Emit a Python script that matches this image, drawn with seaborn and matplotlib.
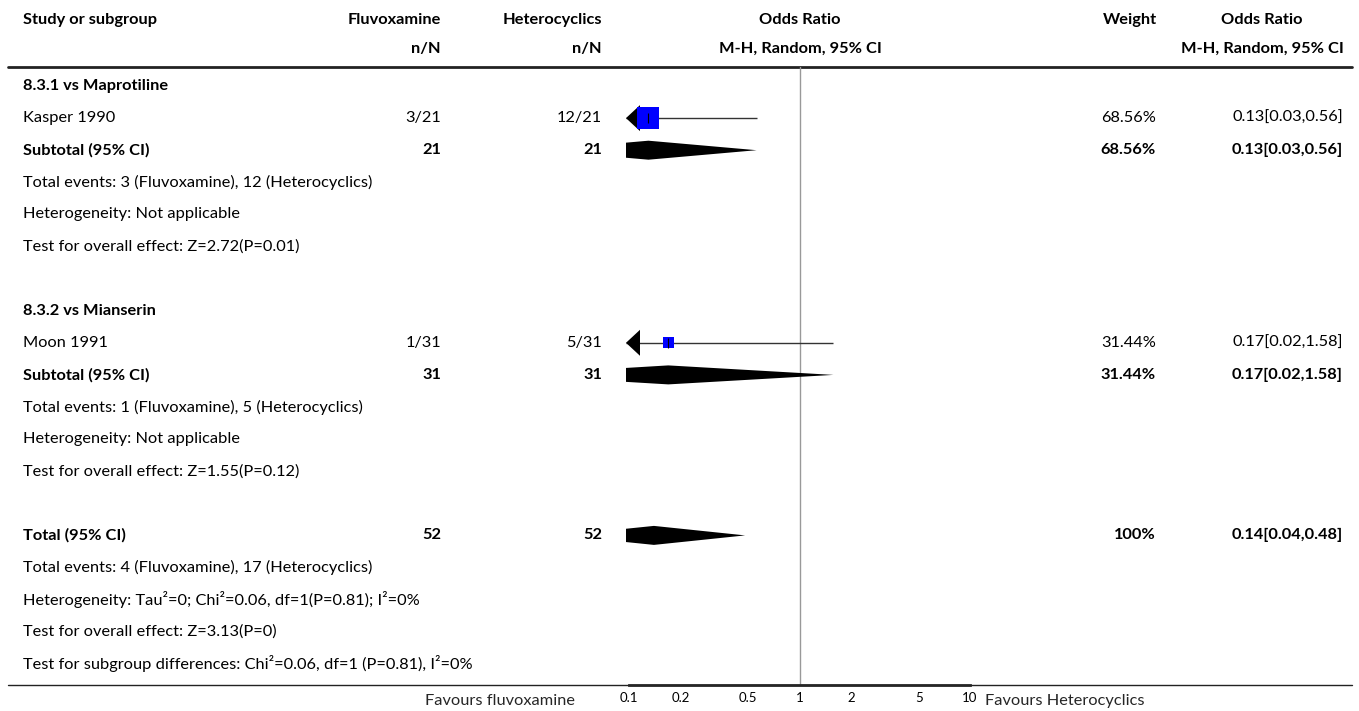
import numpy as np
import pandas as pd
import matplotlib
matplotlib.use("Agg")
import matplotlib.pyplot as plt
import seaborn as sns
from matplotlib.patches import Polygon

# ---- data ----
subgroup_headers = ["8.3.1 vs Maprotiline", "8.3.2 vs Mianserin"]
subgroup_rows = [0, 7]

studies = ["Kasper 1990", "Moon 1991"]
study_rows = [1, 8]
study_fluvox = ["3/21", "1/31"]
study_hetero = ["12/21", "5/31"]
study_or = [0.13, 0.17]
study_lo = [0.03, 0.02]
study_hi = [0.56, 1.58]
study_weight = [68.56, 31.44]

pooled_labels = ["Subtotal (95% CI)", "Subtotal (95% CI)", "Total (95% CI)"]
pooled_rows = [2, 9, 14]
pooled_fluvox = ["21", "31", "52"]
pooled_hetero = ["21", "31", "52"]
pooled_or = [0.13, 0.17, 0.14]
pooled_lo = [0.03, 0.02, 0.04]
pooled_hi = [0.56, 1.58, 0.48]
pooled_weight = ["68.56%", "31.44%", "100%"]

note_rows = [3, 4, 5, 10, 11, 12, 15, 16, 17, 18]
note_texts = [
    "Total events: 3 (Fluvoxamine), 12 (Heterocyclics)",
    "Heterogeneity: Not applicable",
    "Test for overall effect: Z=2.72(P=0.01)",
    "Total events: 1 (Fluvoxamine), 5 (Heterocyclics)",
    "Heterogeneity: Not applicable",
    "Test for overall effect: Z=1.55(P=0.12)",
    "Total events: 4 (Fluvoxamine), 17 (Heterocyclics)",
    "Heterogeneity: Tau\u00b2=0; Chi\u00b2=0.06, df=1(P=0.81); I\u00b2=0%",
    "Test for overall effect: Z=3.13(P=0)",
    "Test for subgroup differences: Chi\u00b2=0.06, df=1 (P=0.81), I\u00b2=0%",
]

x_ticks = [0.1, 0.2, 0.5, 1, 2, 5, 10]
x_tick_labels = ["0.1", "0.2", "0.5", "1", "2", "5", "10"]

sns.set_style("white")
plt.rcParams["font.family"] = ["Lato", "DejaVu Sans"]

W, H = 1359, 711
ROW0, ROWSTEP = 86, 32.1
FS = 11.8


def row_y(r):
    return ROW0 + ROWSTEP * r


fig = plt.figure(figsize=(W / 100, H / 100), dpi=100)
bg = fig.add_axes([0, 0, 1, 1])
bg.set_xlim(0, W)
bg.set_ylim(H, 0)
bg.axis("off")

# header
hdr = dict(fontsize=FS, fontweight="bold", va="center", color="black")
bg.text(23, 20, "Study or subgroup", ha="left", **hdr)
bg.text(441, 20, "Fluvoxamine", ha="right", **hdr)
bg.text(441, 49, "n/N", ha="right", **hdr)
bg.text(602, 20, "Heterocyclics", ha="right", **hdr)
bg.text(602, 49, "n/N", ha="right", **hdr)
bg.text(800, 20, "Odds Ratio", ha="center", **hdr)
bg.text(800, 49, "M-H, Random, 95% CI", ha="center", **hdr)
bg.text(1157, 20, "Weight", ha="right", **hdr)
bg.text(1262, 20, "Odds Ratio", ha="center", **hdr)
bg.text(1262, 49, "M-H, Random, 95% CI", ha="center", **hdr)
bg.plot([8, 1352], [67, 67], color="#222222", lw=2)
bg.plot([8, 1352], [685, 685], color="#222222", lw=1)

norm = dict(fontsize=FS, va="center", color="black")
for lab, r in zip(subgroup_headers, subgroup_rows):
    bg.text(23, row_y(r), lab, ha="left", fontweight="bold", **norm)

for i, r in enumerate(study_rows):
    y = row_y(r)
    bg.text(23, y, studies[i], ha="left", **norm)
    bg.text(441, y, study_fluvox[i], ha="right", **norm)
    bg.text(602, y, study_hetero[i], ha="right", **norm)
    bg.text(1156, y, f"{study_weight[i]:.2f}%", ha="right", **norm)
    bg.text(1343, y, f"{study_or[i]:.2f}[{study_lo[i]:.2f},{study_hi[i]:.2f}]",
            ha="right", **norm)

for i, r in enumerate(pooled_rows):
    y = row_y(r)
    kw = dict(fontweight="bold", **norm)
    bg.text(23, y, pooled_labels[i], ha="left", **kw)
    bg.text(441, y, pooled_fluvox[i], ha="right", **kw)
    bg.text(602, y, pooled_hetero[i], ha="right", **kw)
    bg.text(1156, y, pooled_weight[i], ha="right", **kw)
    bg.text(1343, y, f"{pooled_or[i]:.2f}[{pooled_lo[i]:.2f},{pooled_hi[i]:.2f}]",
            ha="right", **kw)

for t, r in zip(note_texts, note_rows):
    bg.text(23, row_y(r), t, ha="left", **norm)

bg.text(575, 701, "Favours fluvoxamine", ha="right", fontsize=FS, va="center")
bg.text(985, 701, "Favours Heterocyclics", ha="left", fontsize=FS, va="center")

# ---- forest panel (log odds ratio scale) ----
left_px, right_px = 626, 974
ax = fig.add_axes([left_px / W, (H - 685) / H, (right_px - left_px) / W, (685 - 67) / H])
ax.set_facecolor("none")
ax.set_xscale("log")
decade = 170.5
x0 = 10 ** (-1 - 3 / decade)
x1 = 10 ** (1 + 4 / decade)
ax.set_xlim(x0, x1)
ax.set_ylim(685, 67)

ax.axvline(1, color="#999999", lw=1, zorder=1)

sdf = pd.DataFrame({"or": study_or, "lo": study_lo, "hi": study_hi,
                    "weight": study_weight, "y": [row_y(r) for r in study_rows]})

for _, s in sdf.iterrows():
    ax.hlines(s["y"], max(s["lo"], x0), s["hi"], color="#333333", lw=1, zorder=3)
    ax.vlines(s["or"], s["y"] - 5, s["y"] + 5, color="black", lw=0.8, zorder=5)
    if s["lo"] < x0:
        xb = x0 * 10 ** (14 / decade)
        tri = Polygon([(x0, s["y"]), (xb, s["y"] - 13), (xb, s["y"] + 13)],
                      closed=True, color="black", lw=0, zorder=4)
        ax.add_patch(tri)

sns.scatterplot(data=sdf, x="or", y="y", size="weight", sizes=(63, 250),
                size_norm=(min(study_weight), max(study_weight)), marker="s",
                color="#0000FF", linewidth=0, legend=False, ax=ax, zorder=4)

for i, r in enumerate(pooled_rows):
    y = row_y(r)
    dia = Polygon([(pooled_lo[i], y), (pooled_or[i], y - 9.5),
                   (pooled_hi[i], y), (pooled_or[i], y + 9.5)],
                  closed=True, color="black", lw=0, zorder=4)
    ax.add_patch(dia)

ax.set_xticks(x_ticks)
ax.set_xticklabels(x_tick_labels)
ax.xaxis.set_minor_locator(matplotlib.ticker.NullLocator())
ax.tick_params(axis="x", direction="in", length=6, width=0.8, pad=5,
               labelsize=9.5, colors="black")
ax.set_yticks([])
ax.set_xlabel("")
ax.set_ylabel("")
for side in ["top", "left", "right"]:
    ax.spines[side].set_visible(False)
ax.spines["bottom"].set_linewidth(2)
ax.spines["bottom"].set_bounds(0.1, 10)

fig.savefig("out.png", dpi=100)
plt.close(fig)
